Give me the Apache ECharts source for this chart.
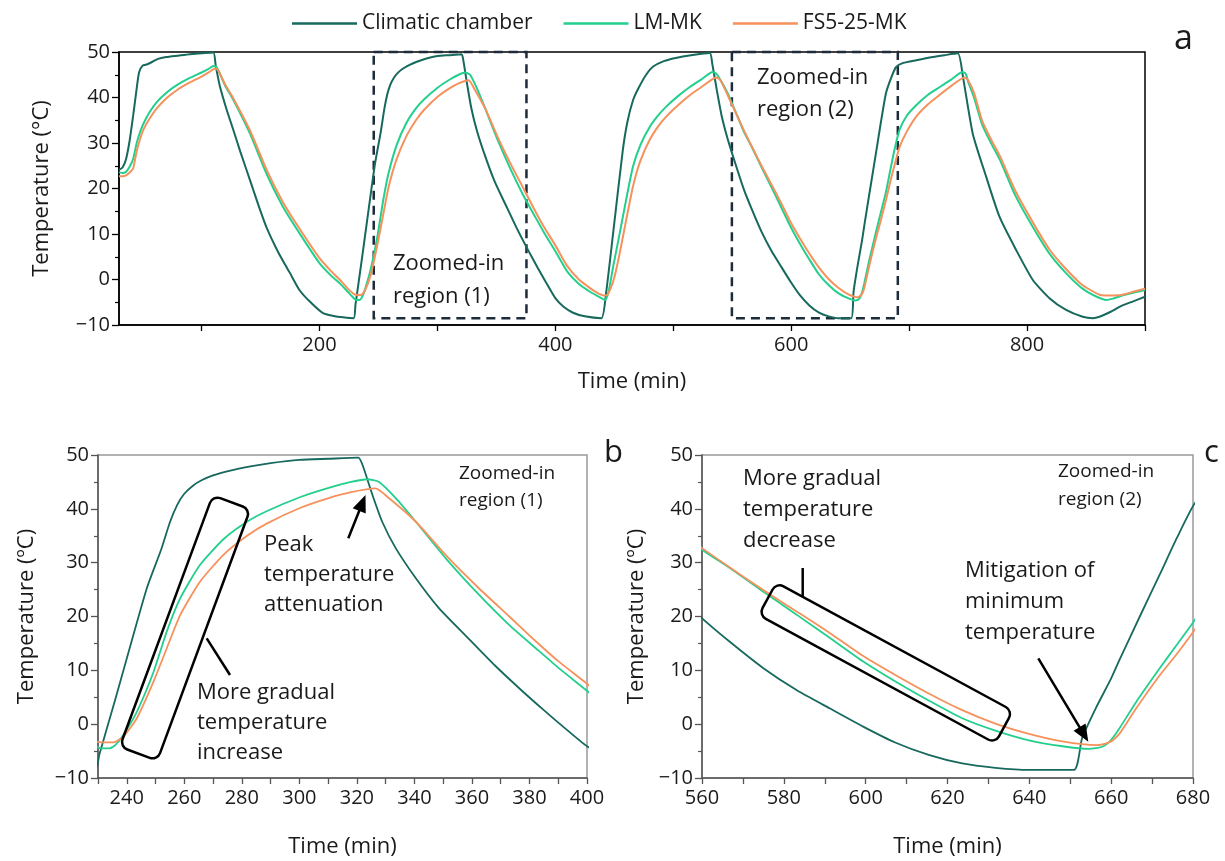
<!DOCTYPE html>
<html><head><meta charset="utf-8">
<script src="https://cdn.jsdelivr.net/npm/echarts@6/dist/echarts.min.js"></script>
<style>html,body{margin:0;padding:0;background:#fff}#c{width:1225px;height:861px}</style>
</head><body><div id="c"></div>
<script>
// ---------------- DATA ----------------
const seriesNames = ['Climatic chamber', 'LM-MK', 'FS5-25-MK'];

const chamberTime = [30,33,36,39,42,45,47,50,54,58,63,70,80,90,100,110,112,115.6,121.3,126.9,133,141,148,155,165,175,183,192,203,212,220,229,
  230.5,236,242,247,252,255,257.5,260,263,266,270,276,282,290,300,310,320.5,
  322,325.4,328.8,333.5,340.5,348.6,359,368,377,385,392,400,407,415,425,439,
  443,449,457,461,466,471,477,483,492,502,515,531,
  533,537,541,546,552,560,566.8,575,583.2,591.3,599.5,607.2,615.4,623.6,631.7,639.9,650.9,
  652.9,656.2,660,662,667,672,676,680.4,685,689,695,706,720,730,741.3,
  745.6,754,765.3,776.6,790.7,804.9,819,833.1,847.2,855.8,861.4,870,880,890,900];
const chamberTemp = [24.1,24.6,26.5,30.5,36,42,45.5,47,47.3,47.8,48.5,48.9,49.2,49.5,49.7,49.9,47,42.4,37.3,32.9,28,21.9,16.5,11.5,6,1.4,-2.3,-4.9,-7.4,-8.0,-8.3,-8.5,
  -5.6,4.6,16,25.3,32.5,37.5,40.7,42.8,44.3,45.3,46.2,47.1,47.8,48.5,49.1,49.3,49.5,
  48.1,42.6,37.6,32.7,27.1,21.5,15.8,10.9,6.4,2.6,-0.6,-4.1,-6,-7.3,-8.1,-8.5,
  -3,10.2,28,34.5,39.5,42.3,45,46.8,48,48.7,49.3,49.8,
  47.5,41.5,36,31,26,19.7,15.3,10.4,6.3,2.9,-0.5,-3.4,-5.7,-7.3,-8.1,-8.5,-8.5,
  -2.6,2.9,8.5,11.9,20,28,34.5,41,44.5,46.7,47.6,48.2,48.9,49.3,49.7,
  44.6,32,22.6,13.8,6.5,-0.1,-4.1,-6.7,-8.2,-8.5,-8.2,-7.2,-5.8,-4.8,-3.8];

const lmTime = [30,33,36,39,42,45,48,51,56,62,70,79,90,100,106,110,112.7,116,120,126.9,141,155,169,183,200,210,217,224,228,
  231,234,236,238.8,243.5,249.3,253.9,258.6,265.5,273.7,281.8,288.8,300.4,310.2,318,323.6,327.7,333.5,340.5,350.9,362.5,373,382,390,400,410,420,430,437,442,
  445,449,454.6,460,465.8,472,480,487,494,504,514,524,533.5,537,541,546,550,555,560,566.8,575,583.2,591.3,599.5,608,615.4,623.6,631.7,639.9,648.1,654.6,657.8,
  660,662,666,671.6,676,680.4,684,688,692,698,706,716,726,736,745.3,748,750,755,762,770,777,790,805,819,833,845,853,860,867,873,880,890,900];
const lmTemp = [23.6,23.4,23.7,24.8,26.5,30,32.5,34.4,36.8,39,41,42.7,44.3,45.5,46.3,46.9,46.7,45,42.6,39.5,32.1,23.3,16,10.2,3.6,0.8,-0.8,-2.7,-3.8,
  -4.5,-4.5,-3.9,-2,2.3,9.7,17.2,23.4,29.6,34.4,37.6,39.6,42.2,43.9,45,45.5,45,42,37.6,30.8,24,18.4,14.2,10.5,6.2,1.8,-1,-2.8,-3.8,-4.5,
  -2.8,2.8,10.2,17.5,24.8,29.5,33.5,36,38,40.3,42.3,44,45.6,45.1,43.4,41,38.6,35.5,32.4,29,24.6,20.3,16,11.6,7.6,4.4,1.1,-1.2,-3.0,-4.1,-4.6,-4.2,
  -2.9,-0.8,4,10.1,14.7,19.3,24,29,33,36,38.3,40.6,42.3,44,45.6,45.2,43.5,40,34,29.7,26.3,18.5,11.5,5.7,1.4,-1.6,-3,-3.9,-4.5,-4.2,-3.6,-2.9,-2.3];

const fsTime = [30,33,36,39,42,45,48,51,56,62,70,79,90,100,106,111.4,114,117,121,127,141,155,169,183,200,210,217,224,230,
  235.3,238.8,243.5,249.3,253.9,258.6,265.5,273.7,281.8,288.8,300.4,310.2,318,326.5,331.1,340.5,350.9,362.5,373,382,390,400,410,420,430,436,441,
  444,448,451,454.6,460,465.8,472,480,487,494,504,514,524,536.5,540,546,550,555,560,567,575,583.2,591.3,599.5,608,615.4,623.6,631.7,639.9,648.1,656.4,659.8,
  662,666,671.6,676,680.4,684,688,692,698,706,716,726,736,747,750,755,762,770,777,790,805,819,833,845,853,862,870,880,890,900];
const fsTemp = [22.7,22.7,22.9,23.5,24.4,28.2,31,33.1,35.4,37.6,39.8,41.6,43.3,44.6,45.5,46.4,46,44.4,42.4,39.8,32.8,24.2,17,11.2,4.7,1.8,0,-2,-3.3,
  -3.4,-2.3,1.1,7.9,14.1,20.3,26.5,31.5,35,37.3,40.2,42,43.1,43.8,42,37.6,31.4,25.2,20,15.5,11.7,7.5,3,0,-2,-3,-3.5,
  -3.4,-1.2,1.5,5.8,13,20.4,26,30.7,33.6,35.8,38.3,40.5,42.3,44.4,43.8,40.6,38.3,35.5,32.7,29,24.9,20.9,16.9,12.6,8.8,5.7,2.6,0.1,-1.8,-3.2,-3.9,-3.3,
  -1.8,2.8,8.8,13,17.5,21.5,25.5,29.2,32.5,35.8,38.5,40.6,42.6,44.4,43.8,41,34.8,30.5,27.1,19.5,12.5,6.6,2.3,-0.8,-2.2,-3.4,-3.5,-3.4,-2.7,-2];

const topXTicks = [100,200,300,400,500,600,700,800,900];
const topXLabels = [200,400,600,800];
const bXTicks = [230,240,250,260,270,280,290,300,310,320,330,340,350,360,370,380,390,400];
const bXLabels = [240,260,280,300,320,340,360,380,400];
const cXTicks = [560,570,580,590,600,610,620,630,640,650,660,670,680];
const cXLabels = [560,580,600,620,640,660,680];

// ---------------- CHART ----------------
const colors = ['#17695d', '#22cf8c', '#f6915c'];
const FONT = 'Open Sans';
const zip = (t, v) => t.map((x, i) => [x, v[i]]);
const datasets = [zip(chamberTime, chamberTemp), zip(lmTime, lmTemp), zip(fsTime, fsTemp)];
const minus = v => String(v).replace('-', '\u2212');

function xAx(gi, min, max, ticks, labels, dark) {
  const ac = dark ? '#000' : '#555';
  return {
    type: 'value', gridIndex: gi, min: min, max: max,
    name: 'Time (min)', nameLocation: 'middle', nameGap: dark ? 46 : 58,
    nameTextStyle: {fontFamily: FONT, fontSize: 22, color: '#1a1a1a'},
    axisLine: {show: true, onZero: false, lineStyle: {color: ac, width: 1.5}},
    axisTick: {show: true, customValues: ticks, length: 6, lineStyle: {color: ac, width: 1.3}},
    axisLabel: {customValues: labels, fontFamily: FONT, fontSize: 20, color: '#1a1a1a', margin: 10},
    splitLine: {show: false}
  };
}
function yAx(gi, name, gap, dark) {
  const ac = dark ? '#000' : '#555';
  return {
    type: 'value', gridIndex: gi, min: -10, max: 50, interval: 10,
    name: name, nameLocation: 'middle', nameGap: gap,
    nameTextStyle: {fontFamily: FONT, fontSize: 22, color: '#1a1a1a'},
    axisLine: {show: true, onZero: false, lineStyle: {color: ac, width: 1.5}},
    axisTick: {show: true, length: 7, lineStyle: {color: ac, width: 1.3}},
    minorTick: {show: true, splitNumber: 2, length: 4, lineStyle: {color: ac, width: 1.2}},
    axisLabel: {fontFamily: FONT, fontSize: 20, color: '#1a1a1a', margin: 9, formatter: minus},
    splitLine: {show: false}, minorSplitLine: {show: false}
  };
}

const series = [];
[0, 1, 2].forEach(g => {
  datasets.forEach((d, k) => {
    series.push({
      type: 'line', name: seriesNames[k], xAxisIndex: g, yAxisIndex: g,
      data: d, showSymbol: false, symbol: 'none', clip: true,
      smooth: 0.2,
      lineStyle: {color: colors[k], width: g === 0 ? 2 : 1.8},
      itemStyle: {color: colors[k]}, z: 3 + k
    });
  });
});
// dashed zoom regions on panel a (annotation)
series[0].markArea = {
  silent: true,
  itemStyle: {color: 'rgba(0,0,0,0)', borderColor: '#1d2b3a', borderWidth: 2.5, borderType: [9, 6]},
  data: [
    [{xAxis: 246, yAxis: 50}, {xAxis: 375.5, yAxis: -8.5}],
    [{xAxis: 549.7, yAxis: 50}, {xAxis: 690.4, yAxis: -8.5}]
  ]
};

function txt(x, y, text, size, lh) {
  return {type: 'text', x: x, y: y, z: 50,
    style: {text: text, fontFamily: FONT, fontSize: size, lineHeight: lh, fill: '#1a1a1a', verticalAlign: 'top', align: 'left'}};
}
function arrow(x1, y1, x2, y2) {
  const L = 17, W = 7;
  const dx = x2 - x1, dy = y2 - y1, len = Math.hypot(dx, dy);
  const ux = dx / len, uy = dy / len;
  const bx = x2 - ux * L, by = y2 - uy * L;
  return [
    {type: 'line', z: 50, shape: {x1: x1, y1: y1, x2: bx + ux * 2, y2: by + uy * 2}, style: {stroke: '#000', lineWidth: 2.5}},
    {type: 'polygon', z: 50, shape: {points: [[x2, y2], [bx - uy * W, by + ux * W], [bx + uy * W, by - ux * W]]}, style: {fill: '#000'}}
  ];
}
function rrect(cx, cy, w, h, rotDeg) {
  return {type: 'rect', z: 50, x: cx, y: cy, rotation: rotDeg * Math.PI / 180,
    shape: {x: -w / 2, y: -h / 2, width: w, height: h, r: 8},
    style: {fill: 'none', stroke: '#000', lineWidth: 2.5}};
}

const graphic = [
  {type: 'text', x: 1174, y: 22, z: 50, style: {text: 'a', fontFamily: FONT, fontSize: 34, fill: '#1a1a1a'}},
  {type: 'text', x: 604, y: 438, z: 50, style: {text: 'b', fontFamily: FONT, fontSize: 31, fill: '#1a1a1a'}},
  {type: 'text', x: 1204, y: 438, z: 50, style: {text: 'c', fontFamily: FONT, fontSize: 31, fill: '#1a1a1a'}},
  txt(393, 247, 'Zoomed-in\nregion (1)', 22, 33),
  txt(757, 62, 'Zoomed-in\nregion (2)', 22, 32),
  txt(459, 460, 'Zoomed-in\nregion (1)', 19, 27),
  txt(264, 530, 'Peak\ntemperature\nattenuation', 22, 30),
  txt(197, 678, 'More gradual\ntemperature\nincrease', 22, 30),
  txt(743, 463, 'More gradual\ntemperature\ndecrease', 22, 31),
  txt(965, 555, 'Mitigation of\nminimum\ntemperature', 22, 31),
  txt(1058, 458, 'Zoomed-in\nregion (2)', 19, 28),
  rrect(185, 628, 40, 268, -20.3),
  rrect(885.8, 662.9, 269, 37, -28.5),
  {type: 'line', z: 50, shape: {x1: 206.7, y1: 638.3, x2: 230, y2: 675}, style: {stroke: '#000', lineWidth: 2.5}},
  {type: 'line', z: 50, shape: {x1: 802.7, y1: 568, x2: 802.7, y2: 596}, style: {stroke: '#000', lineWidth: 2.5}},
  ...arrow(348.3, 538.3, 365.5, 495),
  ...arrow(1038.3, 658.3, 1088.3, 741.7)
];

const option = {
  animation: false,
  backgroundColor: '#fff',
  color: colors,
  legend: {
    data: seriesNames, left: 287, top: 8, icon: 'rect', itemWidth: 65, itemHeight: 2.5, itemGap: 31,
    textStyle: {fontFamily: FONT, fontSize: 21, color: '#1a1a1a'}
  },
  grid: [
    {left: 119, top: 52, width: 1026, height: 273, show: true, borderColor: '#000', borderWidth: 1.5, outerBoundsMode: 'none'},
    {left: 98, top: 455, width: 489, height: 323, show: true, borderColor: '#999', borderWidth: 1.5, outerBoundsMode: 'none'},
    {left: 702, top: 455, width: 491, height: 323, show: true, borderColor: '#999', borderWidth: 1.5, outerBoundsMode: 'none'}
  ],
  xAxis: [
    xAx(0, 30, 900, topXTicks, topXLabels, true),
    xAx(1, 230, 400, bXTicks, bXLabels, false),
    xAx(2, 560, 680, cXTicks, cXLabels, false)
  ],
  yAxis: [
    yAx(0, 'Temperature (°C)', 66, true),
    yAx(1, 'Temperature (ºC)', 60, false),
    yAx(2, 'Temperature (ºC)', 54, false)
  ],
  series: series,
  graphic: graphic
};
const chart = echarts.init(document.getElementById('c'), null, {renderer: 'canvas'});
chart.setOption(option);
</script></body></html>
